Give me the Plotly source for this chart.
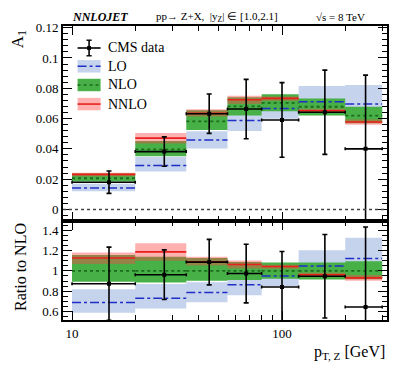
import plotly.graph_objects as go
from plotly.subplots import make_subplots

# bins in p_T,Z [GeV]
edges = [10, 20, 35, 55, 80, 120, 200, 300]

# A1 values, top panel
cms = [0.0180, 0.0382, 0.0632, 0.0663, 0.0591, 0.0642, 0.0400]
cms_err = [0.0074, 0.0097, 0.0130, 0.0196, 0.0246, 0.0278, 0.0487]
lo = [0.0142, 0.0290, 0.0458, 0.0588, 0.0667, 0.0711, 0.0696]
lo_up = [0.0169, 0.0346, 0.0517, 0.0680, 0.0717, 0.0815, 0.0822]
lo_dn = [0.0121, 0.0250, 0.0402, 0.0518, 0.0598, 0.0640, 0.0630]
nlo = [0.0206, 0.0397, 0.0582, 0.0681, 0.0703, 0.0678, 0.0620]
nlo_up = [0.0238, 0.0452, 0.0655, 0.0740, 0.0761, 0.0733, 0.0678]
nlo_dn = [0.0184, 0.0352, 0.0525, 0.0620, 0.0648, 0.0620, 0.0569]
nnlo = [0.0232, 0.0471, 0.0634, 0.0724, 0.0733, 0.0652, 0.0577]
nnlo_up = [0.0243, 0.0505, 0.0662, 0.0750, 0.0745, 0.0665, 0.0594]
nnlo_dn = [0.0220, 0.0436, 0.0613, 0.0696, 0.0718, 0.0640, 0.0559]

FONT = "Liberation Serif"
LO_FILL = "#c6d3ed"
LO_LINE = "#1f2fc8"
NLO_FILL = "#47b047"
NLO_LINE = "#1d6b1d"
NNLO_FILL = "rgba(255,70,70,0.42)"
NNLO_LINE = "#e8201c"


def ratio(vals):
    return [v / n for v, n in zip(vals, nlo)]


def band(fig, up, dn, color, row):
    xs = list(edges)
    fig.add_trace(go.Scatter(x=xs, y=up + [up[-1]], mode="lines", line_shape="hv",
                             line=dict(width=0, color=color), hoverinfo="skip",
                             showlegend=False), row=row, col=1)
    fig.add_trace(go.Scatter(x=xs, y=dn + [dn[-1]], mode="lines", line_shape="hv",
                             line=dict(width=0, color=color), fill="tonexty",
                             fillcolor=color, hoverinfo="skip", showlegend=False),
                  row=row, col=1)


def central(fig, vals, color, dash, width, row):
    xs, ys = [], []
    for i, v in enumerate(vals):
        xs += [edges[i], edges[i + 1], None]
        ys += [v, v, None]
    fig.add_trace(go.Scatter(x=xs, y=ys, mode="lines",
                             line=dict(color=color, dash=dash, width=width),
                             hoverinfo="skip", showlegend=False), row=row, col=1)


def data(fig, vals, errs, row):
    xc = [(edges[i] + edges[i + 1]) / 2 for i in range(len(vals))]
    fig.add_trace(go.Scatter(
        x=xc, y=vals, mode="markers",
        marker=dict(symbol="square", size=4, color="black"),
        error_x=dict(type="data", symmetric=False,
                     array=[edges[i + 1] - xc[i] for i in range(len(xc))],
                     arrayminus=[xc[i] - edges[i] for i in range(len(xc))],
                     color="black", thickness=1.6, width=1.5),
        error_y=dict(type="data", array=errs, color="black", thickness=1.6, width=2.5),
        showlegend=False), row=row, col=1)


fig = make_subplots(rows=2, cols=1, shared_xaxes=True, vertical_spacing=0)

panels = [
    (1, lo, lo_up, lo_dn, nlo, nlo_up, nlo_dn, nnlo, nnlo_up, nnlo_dn, cms, cms_err),
    (2, ratio(lo), ratio(lo_up), ratio(lo_dn), ratio(nlo), ratio(nlo_up), ratio(nlo_dn),
     ratio(nnlo), ratio(nnlo_up), ratio(nnlo_dn), ratio(cms), ratio(cms_err)),
]
for row, l, lu, ld, n, nu, nd, nn, nnu, nnd, c, ce in panels:
    band(fig, lu, ld, LO_FILL, row)
    band(fig, nu, nd, NLO_FILL, row)
    band(fig, nnu, nnd, NNLO_FILL, row)
    central(fig, l, LO_LINE, "dashdot", 1.5, row)
    central(fig, n, NLO_LINE, "dot", 1.8, row)
    central(fig, nn, NNLO_LINE, "solid", 1.6, row)
    data(fig, c, ce, row)

fig.add_hline(y=0, row=1, col=1, line=dict(color="#444", width=1.3, dash="dot"))

axis_common = dict(showline=True, linecolor="black", linewidth=1.8, mirror="allticks",
                   ticks="inside", ticklen=9, tickwidth=1.3, tickcolor="black",
                   showgrid=False, zeroline=False,
                   tickfont=dict(family=FONT, size=13, color="black"))
minor_x = dict(ticks="inside", ticklen=5, tickwidth=1.1, tickcolor="black",
               tickmode="array", tickvals=[20, 30, 40, 50, 60, 70, 80, 90, 200, 300])

fig.update_xaxes(type="log", range=[0.957, 2.5], tickvals=[10, 100], ticktext=["10", "100"],
                 minor=minor_x, **axis_common)
fig.update_xaxes(showticklabels=False, row=1, col=1)

fig.update_yaxes(range=[-0.0074, 0.1211], tickvals=[0, 0.02, 0.04, 0.06, 0.08, 0.1, 0.12],
                 ticktext=["0", "0.02", "0.04", "0.06", "0.08", "0.1", "0.12"],
                 minor=dict(ticks="inside", ticklen=5, tickwidth=1.1, tickcolor="black", dtick=0.004),
                 domain=[0.3378, 1], row=1, col=1, **axis_common)
fig.update_yaxes(range=[0.517, 1.493], tickvals=[0.6, 0.8, 1, 1.2, 1.4],
                 ticktext=["0.6", "0.8", "1", "1.2", "1.4"],
                 minor=dict(ticks="inside", ticklen=5, tickwidth=1.1, tickcolor="black",
                            dtick=0.05, tick0=0),
                 domain=[0, 0.3378], row=2, col=1, **axis_common)

# legend drawn by hand (band + line swatches)
leg_x0, leg_x1 = 0.045, 0.116
leg_rows = [0.887, 0.793, 0.697, 0.599]
leg_h = 0.032
for yc, fill, lcol, dash in [(leg_rows[1], LO_FILL, LO_LINE, "dashdot"),
                             (leg_rows[2], NLO_FILL, NLO_LINE, "dot"),
                             (leg_rows[3], NNLO_FILL, NNLO_LINE, "solid")]:
    fig.add_shape(type="rect", xref="x domain", yref="y domain", x0=leg_x0, x1=leg_x1,
                  y0=yc - leg_h, y1=yc + leg_h, fillcolor=fill, line=dict(width=0))
    fig.add_shape(type="line", xref="x domain", yref="y domain", x0=leg_x0, x1=leg_x1,
                  y0=yc, y1=yc, line=dict(color=lcol, width=1.6, dash=dash))
yc = leg_rows[0]
xm = (leg_x0 + leg_x1) / 2
fig.add_shape(type="line", xref="x domain", yref="y domain", x0=leg_x0, x1=leg_x1,
              y0=yc, y1=yc, line=dict(color="black", width=1.6))
fig.add_shape(type="line", xref="x domain", yref="y domain", x0=xm, x1=xm,
              y0=yc - 0.04, y1=yc + 0.04, line=dict(color="black", width=1.6))
for yy in (yc - 0.04, yc + 0.04):
    fig.add_shape(type="line", xref="x domain", yref="y domain", x0=xm - 0.008, x1=xm + 0.008,
                  y0=yy, y1=yy, line=dict(color="black", width=1.4))
fig.add_shape(type="rect", xref="x domain", yref="y domain", x0=xm - 0.006, x1=xm + 0.006,
              y0=yc - 0.01, y1=yc + 0.01, fillcolor="black", line=dict(width=0))
for yc, txt in zip(leg_rows, ["CMS data", "LO", "NLO", "NNLO"]):
    fig.add_annotation(xref="x domain", yref="y domain", x=0.133, y=yc, text=txt,
                       showarrow=False, xanchor="left", yanchor="middle",
                       font=dict(family=FONT, size=14, color="black"))


def label(text, x, y, size, xanchor="center", angle=0):
    fig.add_annotation(xref="paper", yref="paper", x=x, y=y, text=text, textangle=angle,
                       xanchor=xanchor, yanchor="middle", showarrow=False,
                       font=dict(family=FONT, size=size, color="black"))


# header and axis titles
label("<b><i>NNLOJET</i></b>", 0.114, 1.03, 12)
label("pp\u2192 Z+X,  |y<sub>Z</sub>| \u2208 [1.0,2.1]", 0.475, 1.03, 11)
label("\u221as = 8 TeV", 0.855, 1.03, 11)
label("A<sub>1</sub>", -0.136, 0.955, 17, angle=-90)
label("Ratio to NLO", -0.133, 0.18, 16, angle=-90)
label("p<sub>T, Z</sub> [GeV]", 1.0, -0.11, 16, xanchor="right")

# the page adds an 8px body margin, so the figure is shifted by that much
fig.update_layout(width=399, height=357, margin=dict(l=55, r=20, t=13, b=45),
                  plot_bgcolor="white", paper_bgcolor="white", showlegend=False,
                  font=dict(family=FONT, color="black"))

fig.write_html("out.html")
